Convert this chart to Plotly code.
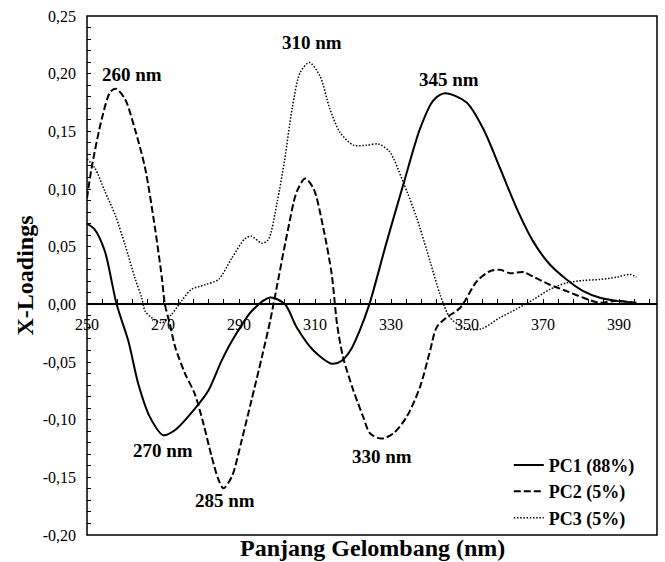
import plotly.graph_objects as go

# ---------------- data ----------------
wl_pc1 = [250, 252, 254.7, 257.8, 260.9, 263.5, 266.6, 270.1, 273.2, 278.4, 281.9, 285.4,
          288.1, 293.3, 298.2, 302.1, 305.2, 309.6, 314.4, 317, 319.5, 321.6, 324.3, 328.9,
          333.2, 337.6, 341.1, 344.2, 349.9, 354.3, 358.7, 363.1, 367.4, 371.8, 376.2,
          380.6, 385, 389.4, 394.6]
pc1 = [0.070, 0.065, 0.046, 0.000, -0.032, -0.069, -0.098, -0.1135, -0.109, -0.0905,
       -0.075, -0.049, -0.032, -0.006, 0.006, 0.000, -0.020, -0.040, -0.0515, -0.049,
       -0.039, -0.024, 0.000, 0.0546, 0.1034, 0.152, 0.1767, 0.183, 0.175, 0.152, 0.118,
       0.083, 0.0546, 0.0345, 0.0216, 0.0115, 0.0057, 0.003, 0.0014]

wl_pc2 = [250, 251.2, 253.9, 256.1, 257.6, 260, 262.6, 265.3, 267.9, 269.7, 270.5, 271.8,
          273.2, 275.8, 278.4, 280.6, 282.8, 284.6, 285.9, 288.1, 290.7, 293.3, 296,
          298.2, 299.9, 302.6, 305.2, 307.4, 309.6, 312.2, 314.4, 315.8, 317.4, 320.1,
          322.7, 324.5, 327.5, 330.6, 334.1, 337.6, 340.3, 342, 344.6, 348.2, 352.6,
          356, 358.7, 361.3, 364.8, 367.4, 371.8, 376.2, 380.6, 385, 389.4, 393.8]
pc2 = [0.092, 0.118, 0.161, 0.184, 0.187, 0.178, 0.152, 0.118, 0.066, 0.023, 0.000,
       -0.017, -0.037, -0.060, -0.078, -0.103, -0.132, -0.152, -0.1595, -0.1495, -0.118,
       -0.083, -0.046, -0.0144, 0.0143, 0.060, 0.0977, 0.109, 0.1005, 0.066, 0.026,
       -0.017, -0.046, -0.0747, -0.0977, -0.112, -0.1164, -0.112, -0.0977, -0.072,
       -0.040, -0.020, -0.0115, -0.003, 0.020, 0.0287, 0.030, 0.027, 0.028, 0.024,
       0.017, 0.0115, 0.0057, 0.0014, 0.003, 0.0014]

wl_pc3 = [250, 252.1, 254.7, 257.4, 260, 262.6, 264.4, 265.3, 267, 269.7, 272.3, 274.9,
          277.5, 281.1, 284.6, 288.1, 291.6, 293.3, 296, 297.7, 300, 302, 304, 306.1,
          308.5, 311.3, 313.9, 316.6, 320.1, 323.6, 326.7, 329.7, 333.2, 336.8, 340.3,
          342.9, 345.5, 348.5, 351, 354, 358.7, 363.1, 367.4, 371.8, 376.2, 380.6, 385,
          389.4, 392.9, 394.6]
pc3 = [0.126, 0.118, 0.098, 0.0776, 0.0517, 0.023, 0.0057, -0.006, -0.0115, -0.016,
       -0.0086, 0.003, 0.013, 0.017, 0.0216, 0.040, 0.057, 0.059, 0.053, 0.056, 0.088,
       0.125, 0.170, 0.201, 0.2097, 0.198, 0.1695, 0.149, 0.138, 0.138, 0.139, 0.132,
       0.106, 0.0747, 0.037, 0.0086, -0.0115, -0.019, -0.022, -0.021, -0.0115, -0.004,
       0.004, 0.013, 0.0186, 0.0207, 0.0216, 0.0235, 0.026, 0.0235]

series_names = ["PC1 (88%)", "PC2 (5%)", "PC3 (5%)"]

x_tick_vals = [250, 270, 290, 310, 330, 350, 370, 390]
x_tick_text = ["250", "270", "290", "310", "330", "350", "370", "390"]
y_tick_vals = [0.25, 0.20, 0.15, 0.10, 0.05, 0.00, -0.05, -0.10, -0.15, -0.20]
y_tick_text = ["0,25", "0,20", "0,15", "0,10", "0,05", "0,00", "-0,05", "-0,10", "-0,15", "-0,20"]

peak_text = ["260 nm", "310 nm", "345 nm", "270 nm", "285 nm", "330 nm"]
peak_x = [261.8, 309.1, 345.2, 269.9, 286.4, 327.5]
peak_y = [0.1997, 0.227, 0.1947, -0.1265, -0.170, -0.1315]

# ---------------- figure ----------------
FONT = "Liberation Serif"
fig = go.Figure()
fig.add_trace(go.Scatter(x=wl_pc1, y=pc1, name=series_names[0], mode="lines",
                         line=dict(color="black", width=2, shape="spline", smoothing=0.8)))
fig.add_trace(go.Scatter(x=wl_pc2, y=pc2, name=series_names[1], mode="lines",
                         line=dict(color="black", width=2, dash="7px,3px", shape="spline", smoothing=0.8)))
fig.add_trace(go.Scatter(x=wl_pc3, y=pc3, name=series_names[2], mode="lines",
                         line=dict(color="black", width=1.5, dash="1.5px,1.7px", shape="spline", smoothing=0.8)))

annotations = [dict(x=x, y=y, text="<b>%s</b>" % t, showarrow=False, xref="x", yref="y",
                    font=dict(family=FONT, size=19, color="black"))
               for t, x, y in zip(peak_text, peak_x, peak_y)]
annotations.append(dict(x=0.5, y=-0.025, xref="paper", yref="paper", xanchor="center", yanchor="middle",
                        text="<b>Panjang Gelombang (nm)</b>", showarrow=False,
                        font=dict(family=FONT, size=24, color="black")))

fig.update_layout(
    width=665, height=562,
    margin=dict(l=87, r=8, t=13, b=27),
    paper_bgcolor="white", plot_bgcolor="white",
    font=dict(family=FONT, color="black"),
    showlegend=True,
    legend=dict(x=0.740, y=0.170, xanchor="left", yanchor="top", bgcolor="rgba(0,0,0,0)",
                font=dict(family=FONT, size=18, color="black", weight="bold"),
                itemwidth=30),
    annotations=annotations,
    shapes=[dict(type="rect", xref="paper", yref="paper", x0=0, x1=1, y0=0, y1=1,
                 line=dict(color="black", width=1.5), layer="above")],
    xaxis=dict(range=[250, 400], anchor="free", position=0.2 / 0.45,
               showline=True, linewidth=2, linecolor="black",
               ticks="inside", ticklen=4, tickwidth=1.2, tickcolor="black",
               tickmode="array", tickvals=x_tick_vals, ticktext=x_tick_text,
               tickfont=dict(family=FONT, size=16, color="black"),
               ticklabelstandoff=5,
               minor=dict(ticks="inside", ticklen=4, tickwidth=1.2, tickcolor="black",
                          tickmode="linear", tick0=250, dtick=4),
               showgrid=False, zeroline=False),
    yaxis=dict(range=[-0.2, 0.25], showline=False,
               ticks="inside", ticklen=4, tickwidth=1.2, tickcolor="black",
               tickmode="array", tickvals=y_tick_vals, ticktext=y_tick_text,
               tickfont=dict(family=FONT, size=16, color="black"),
               ticklabelstandoff=10,
               minor=dict(ticks="inside", ticklen=4, tickwidth=1.2, tickcolor="black",
                          tickmode="linear", tick0=0, dtick=0.01),
               showgrid=False, zeroline=False,
               title=dict(text="<b>X-Loadings</b>", standoff=2,
                          font=dict(family=FONT, size=24, color="black"))),
)

fig.write_html("out.html")
